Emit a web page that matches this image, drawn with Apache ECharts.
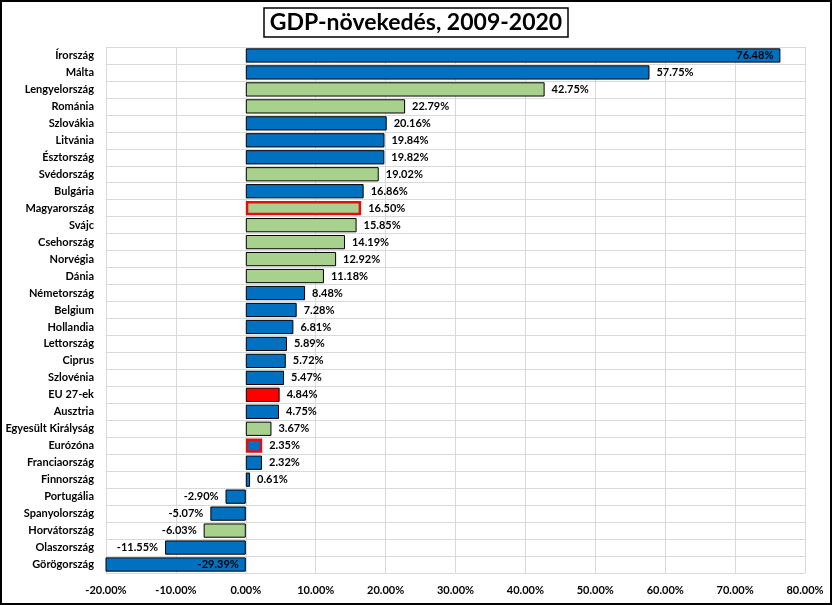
<!DOCTYPE html>
<html>
<head>
<meta charset="utf-8">
<script src="https://cdn.jsdelivr.net/npm/echarts@6/dist/echarts.min.js"></script>
<style>
  html, body { margin: 0; padding: 0; background: #fff; }
  #chart { width: 832px; height: 605px; }
</style>
</head>
<body>
<div id="chart"></div>
<script>
// országok, fentről lefelé
var countries = ['Írország', 'Málta', 'Lengyelország', 'Románia', 'Szlovákia', 'Litvánia', 'Észtország',
  'Svédország', 'Bulgária', 'Magyarország', 'Svájc', 'Csehország', 'Norvégia', 'Dánia', 'Németország',
  'Belgium', 'Hollandia', 'Lettország', 'Ciprus', 'Szlovénia', 'EU 27-ek', 'Ausztria', 'Egyesült Királyság',
  'Eurózóna', 'Franciaország', 'Finnország', 'Portugália', 'Spanyolország', 'Horvátország', 'Olaszország',
  'Görögország'];
// GDP-növekedés %, 2009-2020
var growth = [76.48, 57.75, 42.75, 22.79, 20.16, 19.84, 19.82, 19.02, 16.86, 16.50, 15.85, 14.19, 12.92,
  11.18, 8.48, 7.28, 6.81, 5.89, 5.72, 5.47, 4.84, 4.75, 3.67, 2.35, 2.32, 0.61, -2.90, -5.07, -6.03,
  -11.55, -29.39];
// oszlopszín csoport: b = kék, g = zöld, r = piros (EU 27)
var group = ['b', 'b', 'g', 'g', 'b', 'b', 'b', 'g', 'b', 'g', 'g', 'g', 'g', 'g', 'b', 'b', 'b', 'b', 'b',
  'b', 'r', 'b', 'g', 'b', 'b', 'b', 'b', 'b', 'g', 'b', 'b'];
// kiemelt (piros keret)
var highlighted = ['Magyarország', 'Eurózóna'];
var xTicks = [-20, -10, 0, 10, 20, 30, 40, 50, 60, 70, 80];

var colors = { b: '#0070C0', g: '#A9D18E', r: '#FF0000' };

var chart = echarts.init(document.getElementById('chart'));

var barData = growth.map(function (v, i) {
  var hl = highlighted.indexOf(countries[i]) >= 0;
  // ami kilógna a rajzterületből, annak a címkéje belülre kerül
  var inside = v > xTicks[xTicks.length - 1] - 8 || v < xTicks[0];
  return {
    value: v,
    itemStyle: {
      color: colors[group[i]],
      borderColor: hl ? '#E01010' : '#000',
      borderWidth: hl ? 2.5 : 1
    },
    label: {
      position: inside ? 'insideRight' : (v < 0 ? 'left' : 'right')
    }
  };
});

var option = {
  animation: false,
  textStyle: { fontFamily: 'Lato' },
  title: {
    text: 'GDP-növekedés, 2009-2020',
    left: 'center',
    top: 8,
    padding: [3, 6, 3, 6],
    borderColor: '#000',
    borderWidth: 1.5,
    backgroundColor: '#fff',
    textStyle: { fontFamily: 'Lato', fontSize: 23, fontWeight: 'bold', color: '#000' }
  },
  // keret a kép körül
  graphic: [{
    type: 'rect',
    silent: true,
    shape: { x: 1, y: 1, width: 830, height: 603 },
    style: { fill: 'none', stroke: '#000', lineWidth: 2 }
  }],
  grid: { left: 106, right: 27, top: 47, bottom: 32 },
  xAxis: {
    type: 'value',
    min: xTicks[0],
    max: xTicks[xTicks.length - 1],
    interval: 10,
    axisLine: { show: false },
    axisTick: { show: false },
    splitLine: { lineStyle: { color: '#d9d9d9', width: 1 } },
    axisLabel: {
      color: '#000',
      fontWeight: 'bold',
      fontSize: 11,
      margin: 12,
      formatter: function (v) { return v.toFixed(2) + '%'; }
    }
  },
  yAxis: {
    type: 'category',
    inverse: true,
    data: countries,
    axisLine: { show: false },
    axisTick: { show: false },
    splitLine: { show: true, lineStyle: { color: '#d9d9d9', width: 1 } },
    axisLabel: { color: '#000', fontWeight: 'bold', fontSize: 11, margin: 12 }
  },
  series: [{
    type: 'bar',
    data: barData,
    barCategoryGap: '16%',
    label: {
      show: true,
      color: '#000',
      fontWeight: 'bold',
      fontSize: 11,
      distance: 7,
      formatter: function (p) { return p.value.toFixed(2) + '%'; }
    }
  }]
};

chart.setOption(option);
</script>
</body>
</html>
